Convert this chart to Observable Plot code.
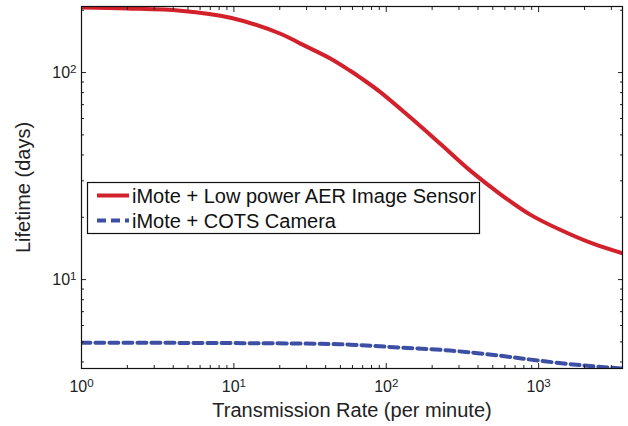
<!DOCTYPE html>
<html><head><meta charset="utf-8">
<script src="https://cdn.jsdelivr.net/npm/d3@7"></script>
<script src="https://cdn.jsdelivr.net/npm/@observablehq/plot@0.6"></script>
<style>
body{margin:0;background:#fff;}
#chart{position:relative;width:628px;height:426px;}
</style>
</head><body><div id="chart"></div>
<script>
// Series
const rate = [1, 2, 4.46, 9.5, 20.2, 27.3, 42.9, 58, 67.6, 91.4, 143.6, 226, 355.6, 559, 880, 1384, 2275, 3550];
const lowPowerLifetime = [206, 204, 199, 184, 154, 138, 117, 102, 94.5, 80.5, 60.8, 45.3, 33.6, 25.9, 20.6, 17.4, 14.9, 13.4];
const cotsRate = [1, 27.3, 58, 100, 263, 559, 1000, 1950, 3550];
const cotsLifetime = [4.96, 4.91, 4.85, 4.74, 4.54, 4.29, 4.06, 3.85, 3.72];

const seriesNames = ["iMote + Low power AER Image Sensor", "iMote + COTS Camera"];
const seriesColors = ["#d3212b", "#3c4fa5"];

const xMajorTicks = [1, 10, 100, 1000];
const yMajorTicks = [10, 100];
const xDomain = [1, 3550];
const yDomain = [3.72, 208.5];

const xMinorTicks = [];
for (const d of [1, 10, 100, 1000]) for (let k = 2; k <= 9; k++) if (d * k <= xDomain[1]) xMinorTicks.push(d * k);
const yMinorTicks = [];
for (const d of [1, 10, 100]) for (let k = 2; k <= 9; k++) { const v = d * k; if (v >= yDomain[0] && v <= yDomain[1]) yMinorTicks.push(v); }

const redData = rate.map((r, i) => ({rate: r, life: lowPowerLifetime[i]}));
const blueData = cotsRate.map((r, i) => ({rate: r, life: cotsLifetime[i]}));

const expFmt = d => `10^${Math.round(Math.log10(d))}`;
const blank = () => "";

const plot = Plot.plot({
  width: 628,
  height: 426,
  marginLeft: 81,
  marginRight: 6,
  marginTop: 6,
  marginBottom: 58,
  style: {fontFamily: "'Liberation Sans', Arial, sans-serif", fontSize: "16px", color: "#222", background: "#fff"},
  x: {type: "log", domain: xDomain},
  y: {type: "log", domain: yDomain},
  marks: [
    Plot.line(redData, {x: "rate", y: "life", stroke: seriesColors[0], strokeWidth: 4, curve: "catmull-rom", clip: true}),
    Plot.line(blueData, {x: "rate", y: "life", stroke: seriesColors[1], strokeWidth: 4, strokeDasharray: "9,5", curve: "catmull-rom", clip: true}),
    // tick labels + axis titles
    Plot.axisX(xMajorTicks, {anchor: "bottom", tickSize: 0, tickPadding: 12, tickFormat: expFmt,
      label: "Transmission Rate (per minute)", labelAnchor: "center", labelArrow: "none", labelOffset: 48}),
    Plot.axisY(yMajorTicks, {anchor: "left", tickSize: 0, tickPadding: 5, tickFormat: expFmt,
      label: "Lifetime (days)", labelAnchor: "center", labelArrow: "none", labelOffset: 66}),
    // inward ticks on all four sides
    Plot.axisX(xMajorTicks, {anchor: "bottom", tickSize: -5, tickFormat: blank, label: null}),
    Plot.axisX(xMinorTicks, {anchor: "bottom", tickSize: -3, tickFormat: blank, label: null}),
    Plot.axisX(xMajorTicks, {anchor: "top", tickSize: -5, tickFormat: blank, label: null}),
    Plot.axisX(xMinorTicks, {anchor: "top", tickSize: -3, tickFormat: blank, label: null}),
    Plot.axisY(yMajorTicks, {anchor: "left", tickSize: -5, tickFormat: blank, label: null}),
    Plot.axisY(yMinorTicks, {anchor: "left", tickSize: -3, tickFormat: blank, label: null}),
    Plot.axisY(yMajorTicks, {anchor: "right", tickSize: -5, tickFormat: blank, label: null}),
    Plot.axisY(yMinorTicks, {anchor: "right", tickSize: -3, tickFormat: blank, label: null}),
    Plot.frame({stroke: "#111", strokeWidth: 1.2})
  ]
});

// superscript exponents
d3.select(plot).selectAll("g[aria-label$='tick label'] text").each(function() {
  const t = this.textContent;
  if (!t.includes("^")) return;
  const [base, exp] = t.split("^");
  const sel = d3.select(this);
  sel.text(null);
  sel.append("tspan").text(base);
  sel.append("tspan").attr("dy", "-0.45em").style("font-size", "0.72em").text(exp);
});
d3.select(plot).selectAll("g[aria-label$='axis label'] text").style("font-size", "20px");

// legend
const svg = d3.select(plot);
const lg = svg.append("g").attr("fill", "#111");
lg.append("rect").attr("x", 87.5).attr("y", 182.5).attr("width", 392).attr("height", 51)
  .attr("fill", "#fff").attr("stroke", "#111").attr("stroke-width", 1.2);
seriesNames.forEach((name, i) => {
  const yy = 195.5 + i * 25;
  lg.append("line").attr("x1", 97).attr("x2", 129).attr("y1", yy).attr("y2", yy)
    .attr("stroke", seriesColors[i]).attr("stroke-width", 4)
    .attr("stroke-dasharray", i === 1 ? "9,5" : null);
  lg.append("text").attr("x", 132).attr("y", yy).attr("dy", "0.36em")
    .style("text-anchor", "start").style("font-size", "20px").text(name);
});

document.getElementById("chart").appendChild(plot);
</script>
</body></html>
